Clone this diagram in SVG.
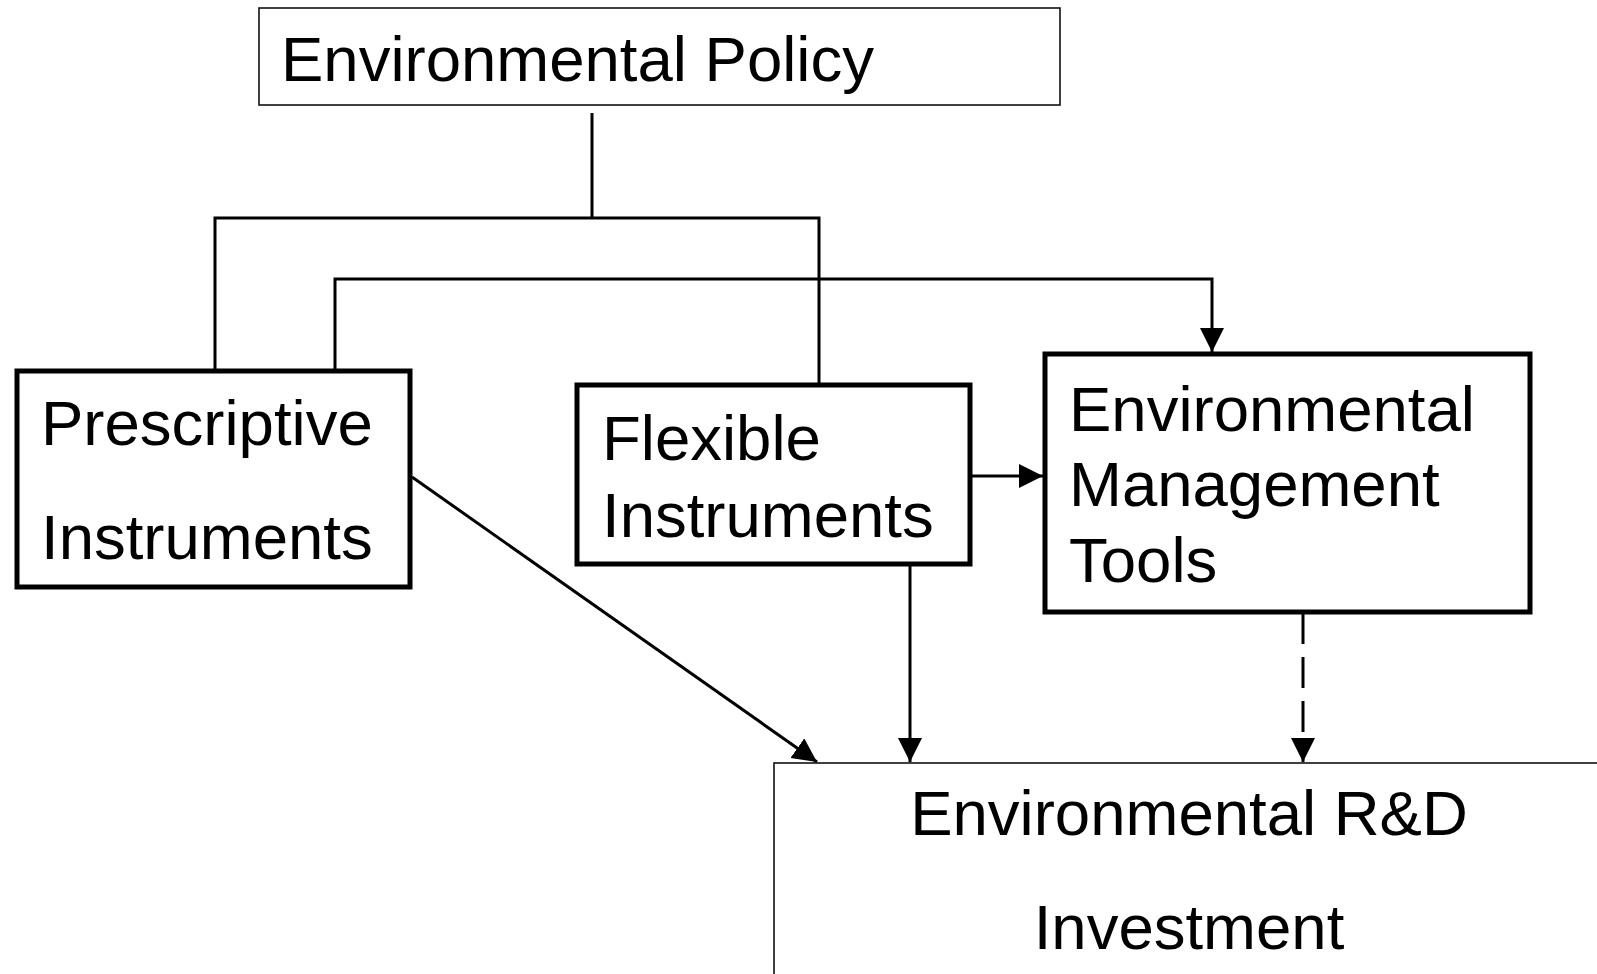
<svg xmlns="http://www.w3.org/2000/svg" width="1597" height="974" viewBox="0 0 1597 974">
  <style>
    .label { font-family: "Liberation Sans", Arial, sans-serif; font-size: 63.5px; fill: #000; }
    .thin { fill: #fff; stroke: #111; stroke-width: 1.6; }
    .thick { fill: #fff; stroke: #000; stroke-width: 5; }
    .wire { fill: none; stroke: #000; stroke-width: 3; }
    .dashed { stroke-dasharray: 31 13; }
  </style>
  <defs>
    <marker id="arrow" markerUnits="userSpaceOnUse" markerWidth="26" markerHeight="26" refX="24" refY="12" orient="auto">
      <path d="M0,0 L24,12 L0,24 Z" fill="#000"/>
    </marker>
  </defs>
  <rect width="1597" height="974" fill="#fff"/>

  <!-- connectors -->
  <g id="connectors">
    <polyline class="wire" points="592,113 592,218"/>
    <polyline class="wire" points="215,371 215,218 819,218 819,385"/>
    <polyline class="wire" points="335,371 335,279 1212,279 1212,352" marker-end="url(#arrow)"/>
    <line class="wire" x1="970" y1="476" x2="1043" y2="476" marker-end="url(#arrow)"/>
    <line class="wire" x1="412" y1="477" x2="817" y2="762" marker-end="url(#arrow)"/>
    <line class="wire" x1="910" y1="565" x2="910" y2="762" marker-end="url(#arrow)"/>
    <line class="wire dashed" x1="1303" y1="613" x2="1303" y2="762" marker-end="url(#arrow)"/>
  </g>

  <g id="environmental-policy">
    <rect class="thin" x="259" y="8" width="801" height="97"/>
    <text class="label" x="281" y="81">Environmental Policy</text>
  </g>

  <g id="prescriptive-instruments">
    <rect class="thick" x="17" y="371" width="393" height="216"/>
    <text class="label" x="41" y="445">Prescriptive</text>
    <text class="label" x="41" y="559">Instruments</text>
  </g>

  <g id="flexible-instruments">
    <rect class="thick" x="577" y="385" width="393" height="179"/>
    <text class="label" x="602" y="460">Flexible</text>
    <text class="label" x="602" y="537">Instruments</text>
  </g>

  <g id="environmental-management-tools">
    <rect class="thick" x="1045" y="354" width="485" height="258"/>
    <text class="label" x="1069" y="431">Environmental</text>
    <text class="label" x="1069" y="506">Management</text>
    <text class="label" x="1069" y="582">Tools</text>
  </g>

  <g id="environmental-rd-investment">
    <rect class="thin" x="774" y="763" width="900" height="300"/>
    <text class="label" x="1189" y="835" text-anchor="middle">Environmental R&amp;D</text>
    <text class="label" x="1189" y="949" text-anchor="middle">Investment</text>
  </g>
</svg>
